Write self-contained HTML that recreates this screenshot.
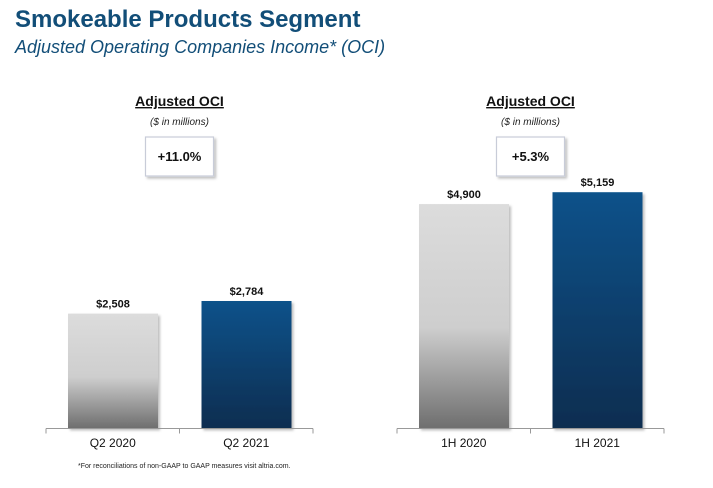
<!DOCTYPE html>
<html><head><meta charset="utf-8"><style>
body{margin:0;background:#fff;font-family:"Liberation Sans",Arial,sans-serif;}
#root{position:relative;width:713px;height:488px;overflow:hidden;}
.t{position:absolute;white-space:nowrap;}
</style></head><body>
<div id="root">
<div class="t" style="left:15px;top:6px;font-size:24px;font-weight:bold;color:#124e78;">Smokeable Products Segment</div>
<div class="t" style="left:15px;top:37px;font-size:18px;font-style:italic;color:#124e78;">Adjusted Operating Companies Income* (OCI)</div>
<svg id="chart" width="713" height="488" style="position:absolute;left:0;top:0">
<defs>
<linearGradient id="gGray" x1="0" y1="0" x2="0" y2="1"><stop offset="0" stop-color="#dcdcdc"/><stop offset="0.55" stop-color="#cecece"/><stop offset="1" stop-color="#6e6e6e"/></linearGradient>
<linearGradient id="gBlue" x1="0" y1="0" x2="0" y2="1"><stop offset="0" stop-color="#08528a"/><stop offset="1" stop-color="#0a2d50"/></linearGradient>
<filter id="sh" x="-10%" y="-10%" width="130%" height="130%"><feDropShadow dx="2" dy="2" stdDeviation="1.2" flood-color="#000" flood-opacity="0.25"/></filter>
</defs>
</svg>
<div class="t" style="left:78px;top:463px;font-size:7px;color:#222;">*For reconciliations of non-GAAP to GAAP measures visit altria.com.</div>
</div>
<script>
const leftCategories=["Q2 2020","Q2 2021"];
const leftValues=[2508,2784];
const leftLabels=["$2,508","$2,784"];
const leftChange="+11.0%";
const rightCategories=["1H 2020","1H 2021"];
const rightValues=[4900,5159];
const rightLabels=["$4,900","$5,159"];
const rightChange="+5.3%";
const NS="http://www.w3.org/2000/svg";
const svg=document.getElementById('chart');
const baseY=428.5, scale=0.0458;
function y(v){return baseY-v*scale;}
function mk(tag,attrs){const e=document.createElementNS(NS,tag);for(const k in attrs)e.setAttribute(k,attrs[k]);svg.appendChild(e);return e;}
function panel(x0,cats,vals,labels,change,side){
  const w=267,cw=w/cats.length,cx=x0+w/2;
  const t=mk('text',{x:cx,y:106,'text-anchor':'middle','font-size':14,'font-weight':'bold','font-family':'Liberation Sans, sans-serif','text-decoration':'underline',fill:'#111'});
  t.textContent='Adjusted OCI';
  
  
  const s=mk('text',{x:cx,y:125,'text-anchor':'middle','font-size':10,'font-style':'italic','font-family':'Liberation Sans, sans-serif',fill:'#222'});
  s.textContent='($ in millions)';
  
  
  const b=mk('rect',{x:cx-34,y:137,width:68,height:39,fill:'#fff',stroke:'#c8ccd8','stroke-width':1.2,filter:'url(#sh)'});
  
  
  const bt=mk('text',{x:cx,y:161,'text-anchor':'middle','font-size':13,'font-weight':'bold','font-family':'Liberation Sans, sans-serif',fill:'#111'});
  bt.textContent=change;
  
  
  cats.forEach((c,i)=>{
    const bx=x0+i*cw+22, top=y(vals[i]);
    const r=mk('rect',{x:bx,y:top,width:90,height:baseY-top,fill:i===0?'url(#gGray)':'url(#gBlue)',filter:'url(#sh)'});
    
    
    const l=mk('text',{x:bx+45,y:top-6,'text-anchor':'middle','font-size':11,'font-weight':'bold','font-family':'Liberation Sans, sans-serif',fill:'#111'});
    l.textContent=labels[i];
    
    
    const cl=mk('text',{x:x0+i*cw+cw/2,y:447,'text-anchor':'middle','font-size':12,'font-family':'Liberation Sans, sans-serif',fill:'#111'});
    cl.textContent=c;
    
    
  });
  const ax=mk('line',{x1:x0,y1:baseY,x2:x0+w,y2:baseY,stroke:'#999','stroke-width':1});
  
  
  for(let i=0;i<=cats.length;i++){
    const tk=mk('line',{x1:x0+i*cw,y1:baseY,x2:x0+i*cw,y2:baseY+5,stroke:'#999','stroke-width':1});
    
    
  }
}
panel(46,leftCategories,leftValues,leftLabels,leftChange,'left');
panel(397,rightCategories,rightValues,rightLabels,rightChange,'right');
</script>
</body></html>
